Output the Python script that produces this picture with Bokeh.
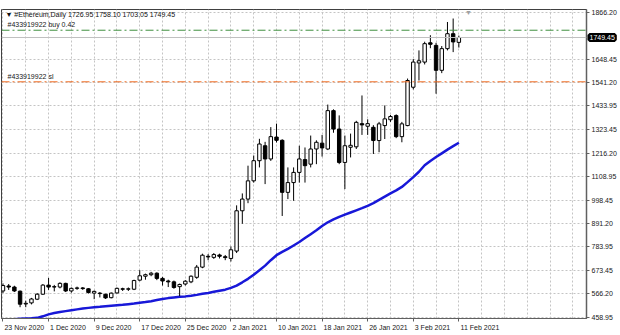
import pandas as pd
from bokeh.plotting import figure
from bokeh.models import FixedTicker, Span, Label, ColumnDataSource
from bokeh.embed import file_html
from bokeh.resources import INLINE

# ---- data -------------------------------------------------------------
dates = pd.date_range("2020-11-23", "2021-02-11", freq="D")

opens = [580, 603, 598, 579, 520, 525, 542, 565, 607, 598,
         598, 615, 580, 592, 594, 590, 570, 570, 565, 549,
         571, 590, 588, 588, 630, 648, 655, 662, 638, 626,
         622, 600, 612, 622, 643, 690, 740, 735, 746, 738,
         730, 764, 950, 1004, 1088, 1181, 1250, 1189, 1290, 1275,
         1035, 1080, 1127, 1186, 1165, 1235, 1262, 1235, 1412, 1327,
         1173, 1243, 1245, 1352, 1340, 1335, 1274, 1343, 1370, 1389,
         1292, 1343, 1520, 1632, 1636, 1725, 1713, 1598, 1698, 1767,
         1726.95]
highs = [615, 612, 604, 582, 535, 548, 570, 612, 640, 608,
         620, 618, 596, 600, 598, 593, 582, 575, 567, 573,
         596, 595, 596, 632, 676, 660, 668, 666, 645, 632,
         628, 614, 630, 652, 700, 752, 750, 755, 752, 746,
         785, 975, 1030, 1158, 1205, 1282, 1268, 1336, 1352, 1280,
         1150, 1150, 1250, 1242, 1297, 1275, 1300, 1440, 1418, 1390,
         1297, 1306, 1365, 1482, 1372, 1345, 1360, 1436, 1392, 1395,
         1360, 1560, 1650, 1690, 1730, 1760, 1725, 1710, 1821, 1837,
         1758.10]
lows = [570, 585, 575, 505, 505, 518, 538, 562, 585, 578,
        592, 575, 572, 585, 585, 568, 542, 550, 543, 546,
        568, 580, 580, 584, 625, 632, 648, 630, 605, 598,
        590, 556, 605, 616, 636, 685, 722, 728, 730, 722,
        716, 755, 890, 985, 1080, 1150, 1073, 1180, 1265, 926,
        1004, 996, 1080, 1080, 1150, 1165, 1200, 1230, 1310, 1165,
        1050, 1196, 1235, 1300, 1300, 1212, 1220, 1281, 1360, 1285,
        1266, 1340, 1510, 1551, 1625, 1700, 1490, 1585, 1690, 1682,
        1703.05]
closes = [605, 598, 580, 519, 523, 543, 565, 607, 598, 600,
          615, 580, 592, 594, 591, 573, 578, 568, 548, 570,
          592, 588, 590, 628, 650, 655, 662, 638, 626, 622,
          596, 610, 625, 648, 690, 745, 737, 748, 740, 734,
          770, 950, 1004, 1088, 1181, 1258, 1189, 1292, 1275, 1035,
          1080, 1127, 1189, 1158, 1235, 1266, 1240, 1412, 1327, 1173,
          1250, 1252, 1358, 1346, 1352, 1274, 1351, 1374, 1385, 1292,
          1351, 1551, 1636, 1642, 1721, 1718, 1598, 1698, 1767, 1729,
          1749.45]
ma_values = [446, 448, 450, 452, 453, 454, 456, 463, 472, 478,
             483, 487, 491, 495, 499, 502, 505, 507, 510, 512,
             514, 516, 519, 522, 526, 529, 533, 538, 543, 547,
             550, 553, 555, 558, 562, 567, 571, 576, 581, 586,
             594, 605, 620, 636, 655, 676, 697, 722, 745, 760,
             774, 790, 806, 824, 842, 860, 880, 897, 910, 922,
             932, 942, 952, 962, 973, 985, 1000, 1015, 1030, 1044,
             1060, 1082, 1105, 1130, 1160, 1180, 1198, 1215, 1232, 1248,
             1264]

x_tick_labels = ["23 Nov 2020", "1 Dec 2020", "9 Dec 2020", "17 Dec 2020",
                 "25 Dec 2020", "2 Jan 2021", "10 Jan 2021", "18 Jan 2021",
                 "26 Jan 2021", "3 Feb 2021", "11 Feb 2021"]
y_tick_labels = ["458.95", "566.20", "673.45", "783.95", "891.20", "998.45",
                 "1108.95", "1216.20", "1323.45", "1433.95", "1541.20",
                 "1648.45", "1866.20"]

header_text = "\u25BC #Ethereum,Daily  1726.95 1758.10 1703.05 1749.45"
buy_label = "#433919922 buy 0.42"
buy_price = 1783.0
sl_label = "#433919922 sl"
sl_price = 1545.0
bid_price = 1749.45

# ---- derived -----------------------------------------------------------
idx = list(range(len(dates)))
up = [c >= o for o, c in zip(opens, closes)]
src = ColumnDataSource(dict(
    x=idx, o=opens, h=highs, l=lows, c=closes,
    top=[max(o, c) for o, c in zip(opens, closes)],
    bottom=[min(o, c) for o, c in zip(opens, closes)],
    fill=["white" if u else "black" for u in up],
))

FONT = "Liberation Sans"
FS_PX = 7
FS = f"{FS_PX}px"

W, H = 620, 335
BL, BR, BT, BB = 1, 34, 9, 17
x0, x1 = -0.26, 102.4
y0, y1 = 452.95, 1878.6
px_per_day = (W - BL - BR) / (x1 - x0)

# approximate Arial/Liberation advance widths (em) to left-align date labels
_cw = {" ": 0.278, "N": 0.722, "D": 0.722, "J": 0.5, "F": 0.611,
       "o": 0.556, "v": 0.5, "e": 0.556, "c": 0.5, "a": 0.556, "n": 0.556,
       "b": 0.556}
def text_w(s):
    return sum(_cw.get(ch, 0.556) for ch in s) * FS_PX

x_tick_pos = [(pd.to_datetime(s, format="%d %b %Y") - dates[0]).days for s in x_tick_labels]
x_label_pos = [t + (text_w(s) / 2 + 1.5) / px_per_day for t, s in zip(x_tick_pos, x_tick_labels)]
y_tick_pos = [float(s) for s in y_tick_labels]

p = figure(width=W, height=H, x_range=(x0, x1), y_range=(y0, y1),
           y_axis_location="right", output_backend="svg", toolbar_location=None,
           min_border_left=BL, min_border_right=BR, min_border_top=BT,
           min_border_bottom=BB)
p.background_fill_color = "white"
p.border_fill_color = "white"
p.outline_line_color = "#404040"
p.outline_line_width = 1

# axes
p.xaxis.ticker = FixedTicker(ticks=x_label_pos, minor_ticks=x_tick_pos)
p.xaxis.major_label_overrides = {pos: lab for pos, lab in zip(x_label_pos, x_tick_labels)}
p.yaxis.ticker = FixedTicker(ticks=y_tick_pos, minor_ticks=[])
p.yaxis.major_label_overrides = {pos: lab for pos, lab in zip(y_tick_pos, y_tick_labels)}
for ax in (p.xaxis, p.yaxis):
    ax.major_label_text_font = FONT
    ax.major_label_text_font_size = FS
    ax.major_label_text_color = "#202020"
    ax.axis_line_color = "#606060"
    ax.major_tick_line_color = "#606060"
    ax.minor_tick_line_color = "#606060"
    ax.major_tick_in = 0
    ax.minor_tick_in = 0
    ax.major_label_standoff = 2
p.yaxis.major_tick_out = 3
p.yaxis.minor_tick_out = 0
p.xaxis.major_tick_out = 0
p.xaxis.minor_tick_out = 3
p.xaxis.major_label_standoff = 2
p.yaxis.axis_line_width = 1.5

# grids
p.xgrid.ticker = FixedTicker(ticks=list(range(0, 104, 4)), minor_ticks=[])
p.ygrid.ticker = FixedTicker(ticks=y_tick_pos, minor_ticks=[])
for g in (p.xgrid, p.ygrid):
    g.grid_line_color = "#c4c4c4"
    g.grid_line_dash = "2 2"
    g.grid_line_width = 1

# bid and order lines
p.add_layout(Span(location=bid_price, dimension="width", line_color="#c0c0c0", line_width=1))
p.add_layout(Span(location=buy_price, dimension="width", line_color="#3f8f3f",
                  line_width=1, line_dash="8 3 2 3"))
p.add_layout(Span(location=sl_price, dimension="width", line_color="#f06a1e",
                  line_width=1, line_dash="8 3 2 3"))

# moving average
p.line(idx, ma_values, line_color="#1818d8", line_width=2.5)

# candles
p.segment(x0="x", y0="l", x1="x", y1="h", source=src, line_color="black", line_width=1)
p.vbar(x="x", width=0.6, top="top", bottom="bottom", source=src,
       fill_color="fill", line_color="black", line_width=1)

# texts
p.add_layout(Label(x=x0, y=y1, x_offset=4, y_offset=-1, text=header_text,
                   text_baseline="top", text_font=FONT, text_font_size=FS,
                   text_color="#101010"))
p.add_layout(Label(x=x0, y=buy_price, x_offset=6, y_offset=2, text=buy_label,
                   text_baseline="bottom", text_font=FONT, text_font_size=FS,
                   text_color="#202020"))
p.add_layout(Label(x=x0, y=sl_price, x_offset=6, y_offset=2, text=sl_label,
                   text_baseline="bottom", text_font=FONT, text_font_size=FS,
                   text_color="#202020"))
p.add_layout(Label(x=len(dates) + 0.7, y=y1, y_offset=1, text="\u25BC",
                   text_baseline="top", text_align="center", text_font=FONT,
                   text_font_size="7px", text_color="#a0a0a0"))

# current price box on the price scale; kept in a side panel so it is not
# clipped to the plotting frame
p.add_layout(Label(x=x1, y=bid_price, x_offset=3, text=f"{bid_price:.2f}",
                   text_baseline="middle", text_align="left", text_font=FONT,
                   text_font_size=FS, text_color="white",
                   background_fill_color="black", border_line_color="black",
                   border_line_width=4), "above")

open("out.html", "w").write(file_html(p, INLINE))
